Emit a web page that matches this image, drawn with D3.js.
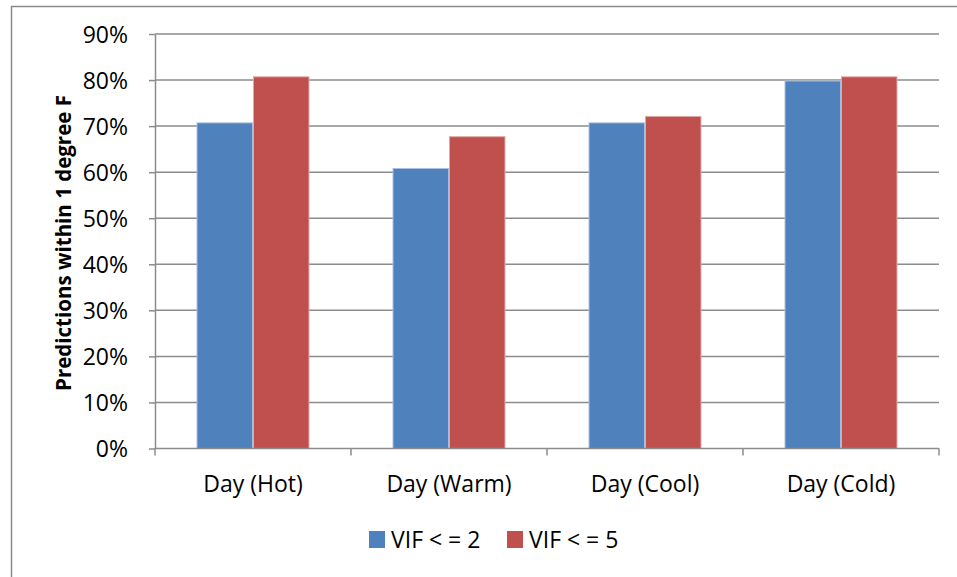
<!DOCTYPE html>
<html>
<head>
<meta charset="utf-8">
<script src="https://cdn.jsdelivr.net/npm/d3@7"></script>
<style>
  html, body { margin: 0; padding: 0; background: #fff; }
  svg { display: block; font-family: "Open Sans", Lato, sans-serif; }
</style>
</head>
<body>
<svg id="chart" width="957" height="577"></svg>
<script>
// Share of predictions within 1 °F, by day type and VIF threshold
const categories = ["Day (Hot)", "Day (Warm)", "Day (Cool)", "Day (Cold)"];
const seriesNames = ["VIF < = 2", "VIF < = 5"];
const vif2 = [0.707, 0.608, 0.707, 0.798];
const vif5 = [0.807, 0.677, 0.721, 0.807];
const yTicks = [0, 0.1, 0.2, 0.3, 0.4, 0.5, 0.6, 0.7, 0.8, 0.9];
const colors = ["#4F81BD", "#C0504D"];
const edgeColors = ["#A7C0DE", "#DFA8A6"];

const svg = d3.select("#chart");
const plot = { left: 155, right: 939, top: 34, bottom: 448.5 };
const fontSize = 23;

// outer chart frame
svg.append("rect")
  .attr("x", 11.5).attr("y", 6.5)
  .attr("width", 960).attr("height", 600)
  .attr("fill", "#fff").attr("stroke", "#898989").attr("stroke-width", 1.5);

const x = d3.scaleBand().domain(categories).range([plot.left, plot.right]).paddingInner(0).paddingOuter(0);
const x1 = d3.scaleBand().domain(seriesNames).range([0, x.bandwidth()]).paddingInner(0).paddingOuter(0.735);
const y = d3.scaleLinear().domain([0, 0.9]).range([plot.bottom, plot.top]);

// horizontal gridlines
svg.append("g").selectAll("line").data(yTicks.slice(1)).join("line")
  .attr("x1", plot.left).attr("x2", plot.right)
  .attr("y1", d => y(d)).attr("y2", d => y(d))
  .attr("stroke", "#8C8C8C").attr("stroke-width", 1.5);

// bars
const data = categories.map((c, i) => ({ cat: c, vals: [vif2[i], vif5[i]] }));
const groups = svg.append("g").selectAll("g").data(data).join("g")
  .attr("transform", d => `translate(${x(d.cat)},0)`);
groups.selectAll("rect").data(d => d.vals.map((v, j) => ({ v, j }))).join("rect")
  .attr("x", d => x1(seriesNames[d.j]) + 0.5)
  .attr("width", x1.bandwidth() - 1)
  .attr("y", d => y(d.v))
  .attr("height", d => y(0) - y(d.v))
  .attr("fill", d => colors[d.j])
  .attr("stroke", d => edgeColors[d.j]).attr("stroke-width", 1);

// y axis
const yAxis = d3.axisLeft(y).tickValues(yTicks).tickFormat(d3.format(".0%")).tickSizeInner(6).tickSizeOuter(0);
const gy = svg.append("g").attr("transform", `translate(${plot.left},0)`).call(yAxis);
gy.select(".domain").attr("stroke", "#8C8C8C").attr("stroke-width", 1.5);
gy.selectAll(".tick line").attr("stroke", "#8C8C8C").attr("stroke-width", 1.5);
gy.selectAll(".tick text").attr("font-size", fontSize).attr("fill", "#000")
  .attr("font-family", "'Open Sans', sans-serif").attr("x", -27).attr("dy", "0.35em");

// x axis: ticks between categories
const xAxisLine = svg.append("g");
xAxisLine.append("line")
  .attr("x1", plot.left).attr("x2", plot.right)
  .attr("y1", plot.bottom).attr("y2", plot.bottom)
  .attr("stroke", "#8C8C8C").attr("stroke-width", 1.5);
const boundaries = categories.map(c => x(c)).concat([x(categories[categories.length - 1]) + x.bandwidth()]);
xAxisLine.selectAll("line.tk").data(boundaries).join("line").attr("class", "tk")
  .attr("x1", d => d).attr("x2", d => d)
  .attr("y1", plot.bottom).attr("y2", plot.bottom + 7)
  .attr("stroke", "#8C8C8C").attr("stroke-width", 1.5);
xAxisLine.selectAll("text").data(categories).join("text")
  .attr("x", d => x(d) + x.bandwidth() / 2)
  .attr("y", 492)
  .attr("text-anchor", "middle")
  .attr("font-size", fontSize).attr("fill", "#000")
  .text(d => d);

// y axis title
svg.append("text")
  .attr("transform", `translate(71,243) rotate(-90)`)
  .attr("text-anchor", "middle")
  .attr("font-size", 20.5).attr("font-weight", "bold").attr("fill", "#000")
  .text("Predictions within 1 degree F");

// legend
const legendX = [369, 507];
const legend = svg.append("g").selectAll("g").data(seriesNames).join("g")
  .attr("transform", (d, i) => `translate(${legendX[i]},531)`);
legend.append("rect").attr("width", 16).attr("height", 17).attr("fill", (d, i) => colors[i]);
legend.append("text").attr("x", 22).attr("y", 17)
  .attr("font-size", fontSize).attr("fill", "#000").text(d => d);
</script>
</body>
</html>
